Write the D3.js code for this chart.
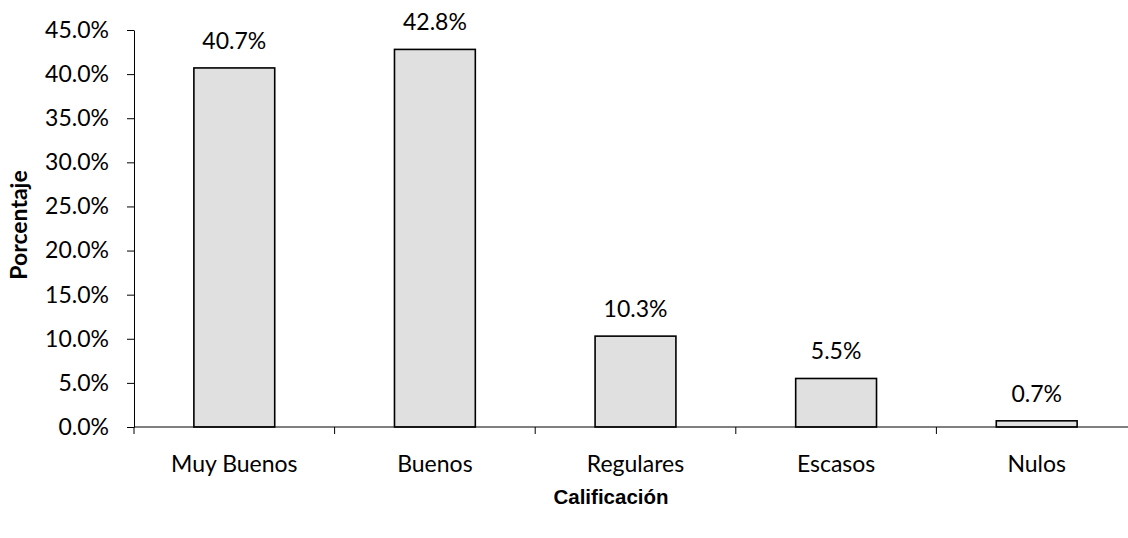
<!DOCTYPE html>
<html>
<head>
<meta charset="utf-8">
<script src="https://cdn.jsdelivr.net/npm/d3@7/dist/d3.min.js"></script>
<style>
  html, body { margin: 0; padding: 0; background: #fff; }
  svg { display: block; }
</style>
</head>
<body>
<svg id="chart" width="1128" height="538"></svg>
<script>
// Distribución de la calificación (porcentaje de respuestas)
const categories = ["Muy Buenos", "Buenos", "Regulares", "Escasos", "Nulos"];
const values = [40.7, 42.8, 10.3, 5.5, 0.7];
const yTicks = [0, 5, 10, 15, 20, 25, 30, 35, 40, 45];

const svg = d3.select("#chart");
const margin = { left: 134, right: -9, top: 30, bottom: 111 };
const W = 1128, H = 538;
const x0 = margin.left, x1 = W - margin.right;
const yTop = margin.top, yBot = H - margin.bottom;

const x = d3.scaleBand().domain(categories).range([x0, x1]).paddingInner(0).paddingOuter(0);
const y = d3.scaleLinear().domain([0, 45]).range([yBot, yTop]);

const numFont = "Lato, 'Open Sans', sans-serif";
const fmt = v => v.toFixed(1) + "%";

// Y axis
const yAxis = d3.axisLeft(y)
  .tickValues(yTicks)
  .tickFormat(fmt)
  .tickSizeInner(7)
  .tickSizeOuter(0)
  .tickPadding(18);
const gy = svg.append("g").attr("transform", `translate(${x0},0)`).call(yAxis);
gy.select(".domain").attr("stroke", "#000").attr("stroke-width", 1);
gy.selectAll(".tick line").attr("stroke", "#000");
gy.selectAll(".tick text")
  .attr("font-family", numFont)
  .attr("font-size", 23)
  .attr("fill", "#000");

// Bars
const barW = x.bandwidth() * 0.403;
svg.append("g").selectAll("rect")
  .data(values)
  .join("rect")
  .attr("x", (d, i) => x(categories[i]) + (x.bandwidth() - barW) / 2)
  .attr("y", d => y(d))
  .attr("width", barW)
  .attr("height", d => y(0) - y(d))
  .attr("fill", "#e0e0e0")
  .attr("stroke", "#000")
  .attr("stroke-width", 1.6);

// X axis line and category boundary ticks
const gx = svg.append("g");
gx.append("line")
  .attr("x1", x0).attr("x2", x1)
  .attr("y1", y(0)).attr("y2", y(0))
  .attr("stroke", "#000").attr("stroke-width", 1);
gx.selectAll("line.sep")
  .data(categories.concat(["_end"]))
  .join("line")
  .attr("class", "sep")
  .attr("x1", (d, i) => x0 + i * x.step())
  .attr("x2", (d, i) => x0 + i * x.step())
  .attr("y1", y(0)).attr("y2", y(0) + 7)
  .attr("stroke", "#000").attr("stroke-width", 1);

// Category labels
svg.append("g").selectAll("text")
  .data(categories)
  .join("text")
  .attr("x", d => x(d) + x.bandwidth() / 2)
  .attr("y", 472)
  .attr("text-anchor", "middle")
  .attr("font-family", numFont)
  .attr("font-size", 23)
  .attr("fill", "#000")
  .text(d => d);

// Value labels above bars
svg.append("g").selectAll("text")
  .data(values)
  .join("text")
  .attr("x", (d, i) => x(categories[i]) + x.bandwidth() / 2)
  .attr("y", d => y(d) - 19)
  .attr("text-anchor", "middle")
  .attr("font-family", numFont)
  .attr("font-size", 23)
  .attr("fill", "#000")
  .text(d => fmt(d));

// Axis titles
svg.append("text")
  .attr("x", 611)
  .attr("y", 504)
  .attr("text-anchor", "middle")
  .attr("font-family", "'Liberation Sans', Arial, sans-serif")
  .attr("font-weight", "bold")
  .attr("font-size", 20.5)
  .attr("fill", "#000")
  .text("Calificación");

svg.append("text")
  .attr("transform", "translate(27,225) rotate(-90)")
  .attr("text-anchor", "middle")
  .attr("font-family", numFont)
  .attr("font-weight", "bold")
  .attr("font-size", 23)
  .attr("fill", "#000")
  .text("Porcentaje");
</script>
</body>
</html>
